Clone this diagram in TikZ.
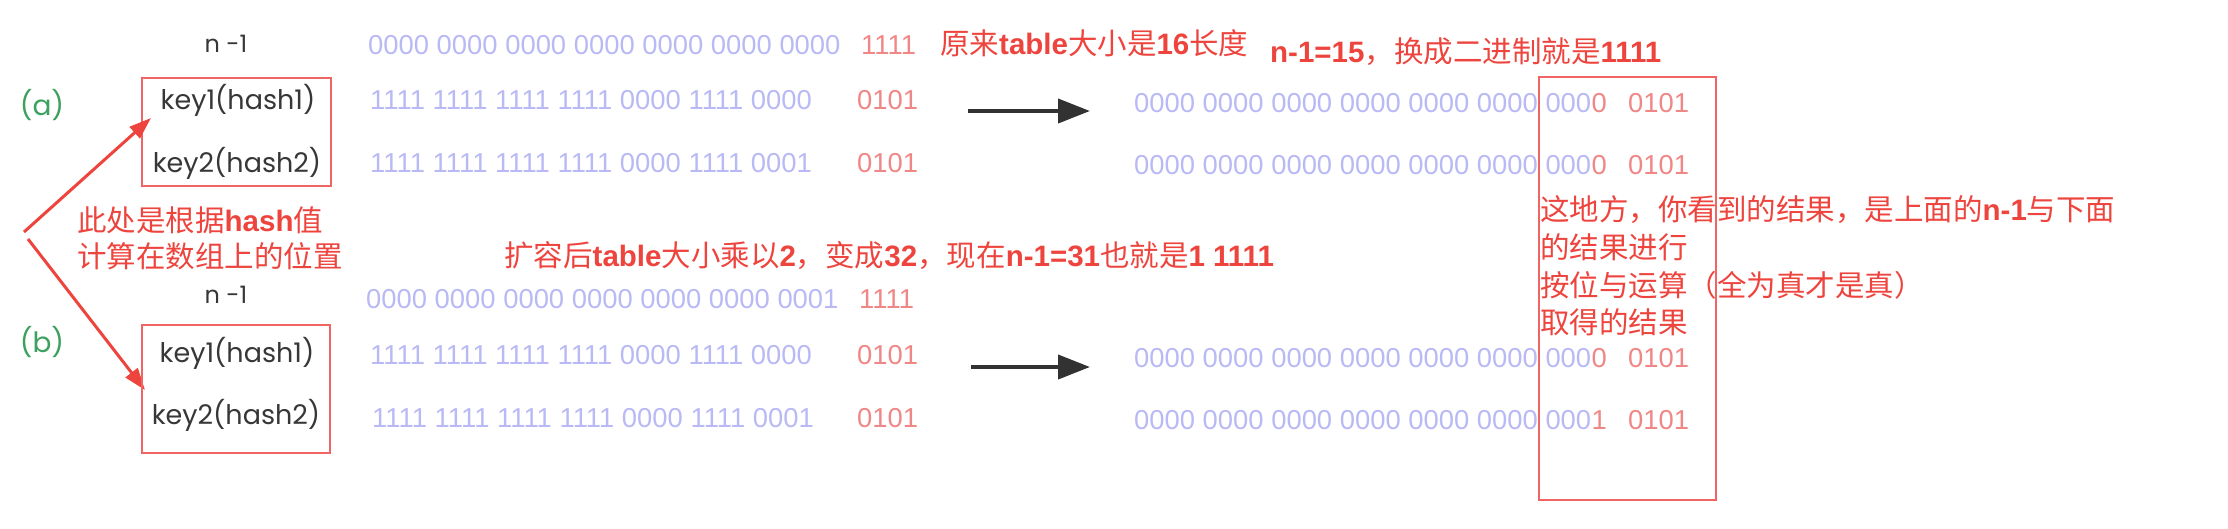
\documentclass[tikz,border=0pt]{standalone}
\usepackage{fontspec}
\setmainfont{Poppins}
\newfontfamily\cjk{Noto Sans CJK SC}
\newfontfamily\latfont{Liberation Sans}
\newfontfamily\bitfont{Liberation Sans}
\usepackage{tikz}
\usetikzlibrary{arrows.meta}
\definecolor{binblue}{RGB}{185,185,245}
\definecolor{lowred}{RGB}{240,135,135}
\definecolor{notered}{RGB}{238,68,62}
\definecolor{boxred}{RGB}{240,100,100}
\definecolor{taggreen}{RGB}{60,160,95}
\definecolor{keygray}{RGB}{55,55,55}
\definecolor{arrowgray}{RGB}{50,50,50}
\newcommand\lb[1]{{\latfont\bfseries #1}}

\begin{document}
\begin{tikzpicture}[x=1pt,y=-1pt,
  bin/.style={anchor=west,inner sep=0pt,text=binblue,font=\bitfont\fontsize{27.4}{33}\selectfont},
  low/.style={anchor=west,inner sep=0pt,text=lowred,font=\bitfont\fontsize{27.4}{33}\selectfont},
  keytext/.style={inner sep=0pt,text=keygray,font=\fontsize{27}{33}\selectfont},
  note/.style={anchor=west,inner sep=0pt,text=notered,font=\cjk\fontsize{29.5}{35}\selectfont},
  tag/.style={inner sep=0pt,text=taggreen,font=\fontsize{28}{34}\selectfont},
  redbox/.style={draw=boxred,line width=2pt,inner sep=0pt},
  blackarrow/.style={draw=arrowgray,line width=4pt,-{Triangle[length=32pt,width=24pt]}},
  redarrow/.style={draw=notered,line width=3pt,-{Triangle[length=22pt,width=15pt]}}]

\useasboundingbox (0,0) rectangle (2228,528);

% (a) original table
\node[keytext,font=\fontsize{24}{30}\selectfont] (nA) at (226,44) {n -1};
\node[tag] (tagA) at (42,105) {(a)};
\node[redbox,minimum width=189pt,minimum height=108pt] (boxA) at (236.5,132) {};
\node[keytext] (keyA1) at (238,100) {key1(hash1)};
\node[keytext] (keyA2) at (237,163) {key2(hash2)};

\node[bin] (binA0) at (368,45) {0000 0000 0000 0000 0000 0000 0000};
\node[low] (lowA0) at (861,45) {1111};
\node[bin] (binA1) at (370,100) {1111 1111 1111 1111 0000 1111 0000};
\node[low] (lowA1) at (857,100) {0101};
\node[bin] (binA2) at (370,163) {1111 1111 1111 1111 0000 1111 0001};
\node[low] (lowA2) at (857,163) {0101};

\coordinate (arrA0) at (968,111);
\coordinate (arrA1) at (1090,111);
\draw[blackarrow] (arrA0) -- (arrA1);

\node[bin] (resA1) at (1134,103) {0000 0000 0000 0000 0000 0000 000};
\node[low,anchor=west] (bitA1) at (resA1.east) {0};
\node[low] (lowRA1) at (1628,103) {0101};
\node[bin] (resA2) at (1134,165) {0000 0000 0000 0000 0000 0000 000};
\node[low,anchor=west] (bitA2) at (resA2.east) {0};
\node[low] (lowRA2) at (1628,165) {0101};

\node[note] (noteA1) at (940,43) {原来\lb{table}大小是\lb{16}长度};
\node[note] (noteA2) at (1270,52) {\lb{n-1=15}，换成二进制就是\lb{1111}};

% hash arrows
\node[note] (noteL1) at (77,220) {此处是根据\lb{hash}值};
\node[note] (noteL2) at (77,256) {计算在数组上的位置};
\coordinate (forkA) at (24,232);
\coordinate (forkB) at (28,239);
\coordinate (tipA) at (151,118);
\coordinate (tipB) at (145,390);
\draw[redarrow] (forkA) -- (tipA);
\draw[redarrow] (forkB) -- (tipB);

% (b) resized table
\node[note] (noteB) at (504,256) {扩容后\lb{table}大小乘以\lb{2}，变成\lb{32}，现在\lb{n-1=31}也就是\lb{1 1111}};
\node[keytext,font=\fontsize{24}{30}\selectfont] (nB) at (226,295) {n -1};
\node[tag] (tagB) at (42,342) {(b)};
\node[redbox,minimum width=188pt,minimum height=128pt] (boxB) at (236,389) {};
\node[keytext] (keyB1) at (237,353) {key1(hash1)};
\node[keytext] (keyB2) at (236,415) {key2(hash2)};

\node[bin] (binB0) at (366,299) {0000 0000 0000 0000 0000 0000 0001};
\node[low] (lowB0) at (859,299) {1111};
\node[bin] (binB1) at (370,355) {1111 1111 1111 1111 0000 1111 0000};
\node[low] (lowB1) at (857,355) {0101};
\node[bin] (binB2) at (372,418) {1111 1111 1111 1111 0000 1111 0001};
\node[low] (lowB2) at (857,418) {0101};

\coordinate (arrB0) at (971,367);
\coordinate (arrB1) at (1090,367);
\draw[blackarrow] (arrB0) -- (arrB1);

\node[bin] (resB1) at (1134,358) {0000 0000 0000 0000 0000 0000 000};
\node[low,anchor=west] (bitB1) at (resB1.east) {0};
\node[low] (lowRB1) at (1628,358) {0101};
\node[bin] (resB2) at (1134,420) {0000 0000 0000 0000 0000 0000 000};
\node[low,anchor=west] (bitB2) at (resB2.east) {1};
\node[low] (lowRB2) at (1628,420) {0101};

% result column
\node[redbox,minimum width=177pt,minimum height=423pt] (boxR) at (1627.5,288.5) {};
\node[note] (noteR1) at (1540,210) {这地方，你看到的结果，是上面的\lb{n-1}与下面};
\node[note] (noteR2) at (1540,247) {的结果进行};
\node[note] (noteR3) at (1540,285) {按位与运算（全为真才是真）};
\node[note] (noteR4) at (1540,322) {取得的结果};
\end{tikzpicture}
\end{document}
